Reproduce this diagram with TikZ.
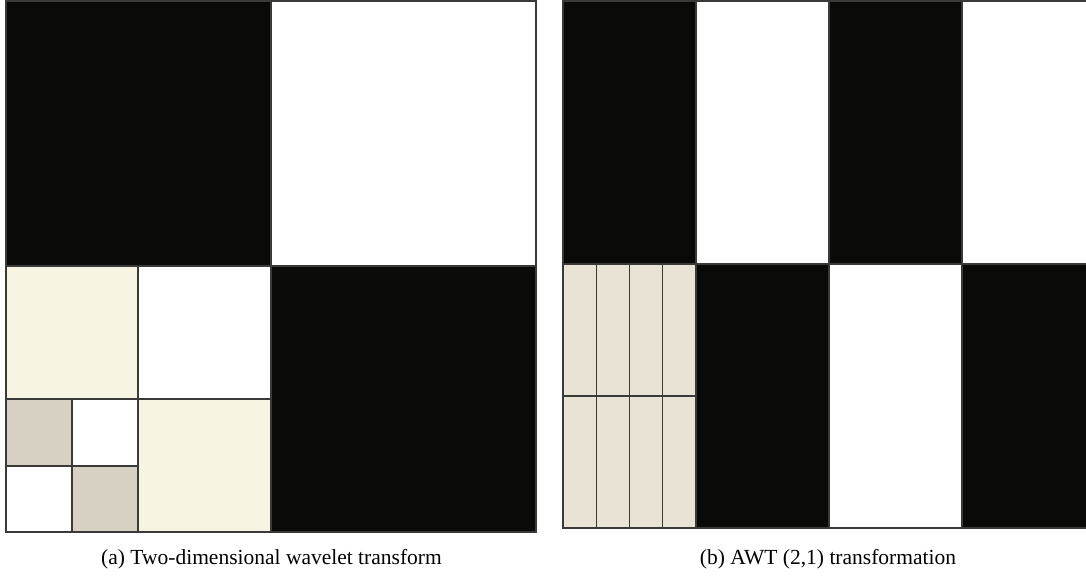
\documentclass[tikz,border=0pt]{standalone}
\usepackage{fontspec}
\setmainfont{Liberation Serif}
\definecolor{blk}{HTML}{0A0A08}
\definecolor{cream}{HTML}{F8F4E4}
\definecolor{beige}{HTML}{D6D1C2}
\definecolor{lite}{HTML}{E9E3D6}
\definecolor{edge}{HTML}{3A3A38}
\begin{document}
\begin{tikzpicture}[x=1pt,y=-1pt,
  cell/.style={draw=edge,line width=1.1pt},
  captext/.style={font=\fontsize{21.5}{25}\selectfont,anchor=base}]
\useasboundingbox (0,0) rectangle (1086,576);
\clip (0,0) rectangle (1086,576);
% ---- left panel (a)
\filldraw[cell,fill=blk] (6,1) rectangle (271,266);
\filldraw[cell,fill=white] (271,1) rectangle (536,266);
\filldraw[cell,fill=blk] (271,266) rectangle (536,532);
\filldraw[cell,fill=cream] (6,266) rectangle (138,399);
\filldraw[cell,fill=white] (138,266) rectangle (271,399);
\filldraw[cell,fill=cream] (138,399) rectangle (271,532);
\filldraw[cell,fill=beige] (6,399) rectangle (72,466);
\filldraw[cell,fill=white] (72,399) rectangle (138,466);
\filldraw[cell,fill=white] (6,466) rectangle (72,532);
\filldraw[cell,fill=beige] (72,466) rectangle (138,532);
% ---- right panel (b)
\filldraw[cell,fill=blk] (563,1) rectangle (696,264);
\filldraw[cell,fill=white] (696,1) rectangle (829,264);
\filldraw[cell,fill=blk] (829,1) rectangle (962,264);
\filldraw[cell,fill=white] (962,1) rectangle (1095,264);
\filldraw[cell,fill=blk] (696,264) rectangle (829,528);
\filldraw[cell,fill=white] (829,264) rectangle (962,528);
\filldraw[cell,fill=blk] (962,264) rectangle (1095,528);
\foreach \i in {0,1,2,3}{
  \filldraw[cell,fill=lite] ({563+33.25*\i},264) rectangle ({563+33.25*(\i+1)},396);
  \filldraw[cell,fill=lite] ({563+33.25*\i},396) rectangle ({563+33.25*(\i+1)},528);
}
% ---- captions
\node[captext] (capa) at (271.5,564) {(a) Two-dimensional wavelet transform};
\node[captext] (capb) at (828,564) {(b) AWT (2,1) transformation};
\end{tikzpicture}
\end{document}
